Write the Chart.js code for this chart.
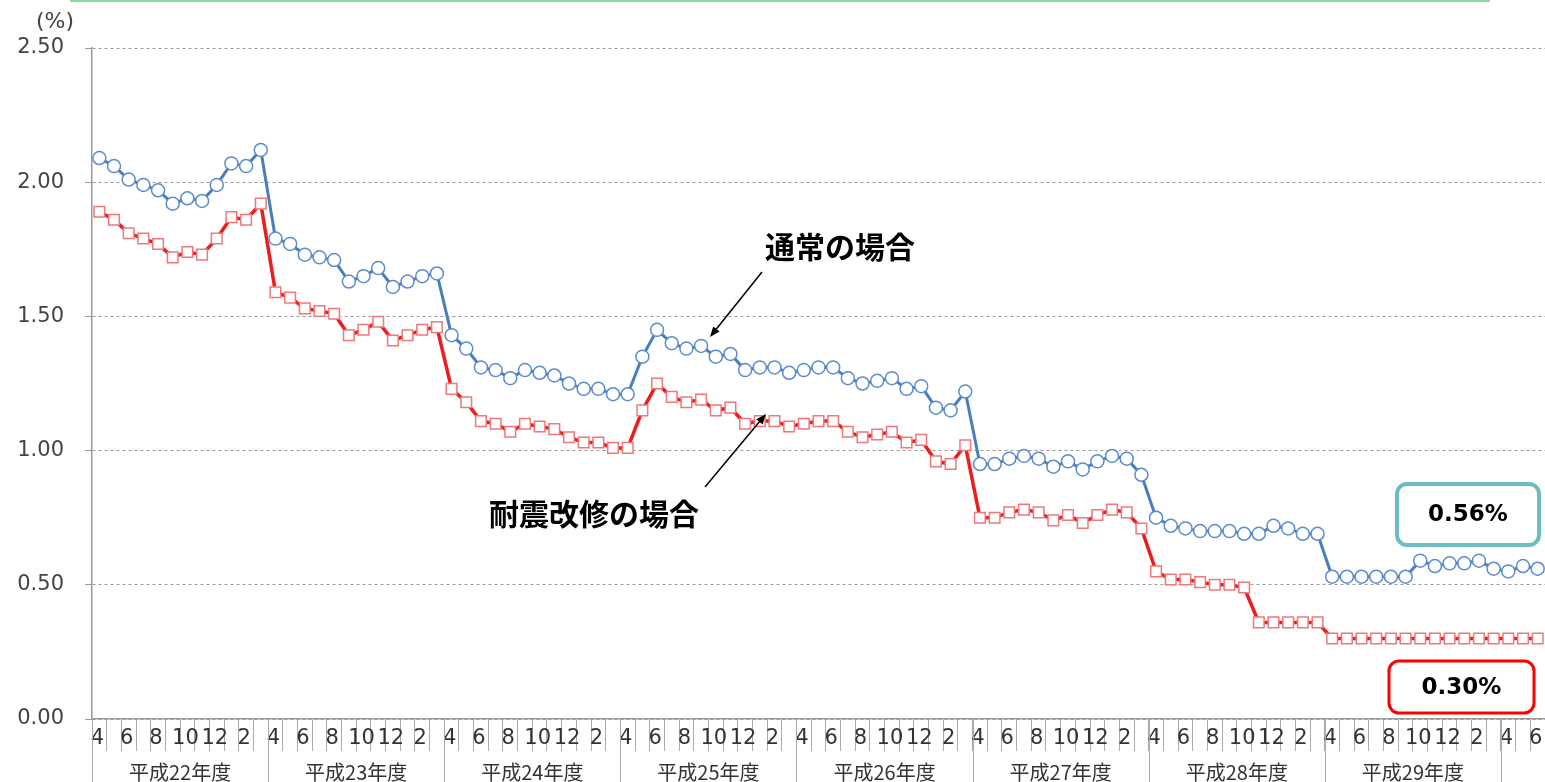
<!DOCTYPE html>
<html lang="ja">
<head>
<meta charset="utf-8">
<title>融資金利の推移</title>
<script src="https://cdn.jsdelivr.net/npm/chart.js@4.4.1/dist/chart.umd.min.js"></script>
<style>
  html, body { margin: 0; padding: 0; background: #fff; overflow: hidden; }
  #wrap { position: relative; width: 1545px; height: 782px; }
  #wrap canvas { display: block; }
</style>
</head>
<body>
<div id="wrap"><canvas id="rates"></canvas></div>
<script>
// 年度（4月始まり）と月
var fiscalYears = ['平成22年度', '平成23年度', '平成24年度', '平成25年度', '平成26年度', '平成27年度', '平成28年度', '平成29年度'];
var fiscalMonths = [4, 5, 6, 7, 8, 9, 10, 11, 12, 1, 2, 3];
var extraMonths = [4, 5, 6];   // 平成30年度 4〜6月

// 金利（%）　1行が1年度分
var normalRates = [
  2.09, 2.06, 2.01, 1.99, 1.97, 1.92, 1.94, 1.93, 1.99, 2.07, 2.06, 2.12,
  1.79, 1.77, 1.73, 1.72, 1.71, 1.63, 1.65, 1.68, 1.61, 1.63, 1.65, 1.66,
  1.43, 1.38, 1.31, 1.30, 1.27, 1.30, 1.29, 1.28, 1.25, 1.23, 1.23, 1.21,
  1.21, 1.35, 1.45, 1.40, 1.38, 1.39, 1.35, 1.36, 1.30, 1.31, 1.31, 1.29,
  1.30, 1.31, 1.31, 1.27, 1.25, 1.26, 1.27, 1.23, 1.24, 1.16, 1.15, 1.22,
  0.95, 0.95, 0.97, 0.98, 0.97, 0.94, 0.96, 0.93, 0.96, 0.98, 0.97, 0.91,
  0.75, 0.72, 0.71, 0.70, 0.70, 0.70, 0.69, 0.69, 0.72, 0.71, 0.69, 0.69,
  0.53, 0.53, 0.53, 0.53, 0.53, 0.53, 0.59, 0.57, 0.58, 0.58, 0.59, 0.56,
  0.55, 0.57, 0.56
];
var seismicRates = [
  1.89, 1.86, 1.81, 1.79, 1.77, 1.72, 1.74, 1.73, 1.79, 1.87, 1.86, 1.92,
  1.59, 1.57, 1.53, 1.52, 1.51, 1.43, 1.45, 1.48, 1.41, 1.43, 1.45, 1.46,
  1.23, 1.18, 1.11, 1.10, 1.07, 1.10, 1.09, 1.08, 1.05, 1.03, 1.03, 1.01,
  1.01, 1.15, 1.25, 1.20, 1.18, 1.19, 1.15, 1.16, 1.10, 1.11, 1.11, 1.09,
  1.10, 1.11, 1.11, 1.07, 1.05, 1.06, 1.07, 1.03, 1.04, 0.96, 0.95, 1.02,
  0.75, 0.75, 0.77, 0.78, 0.77, 0.74, 0.76, 0.73, 0.76, 0.78, 0.77, 0.71,
  0.55, 0.52, 0.52, 0.51, 0.50, 0.50, 0.49, 0.36, 0.36, 0.36, 0.36, 0.36,
  0.30, 0.30, 0.30, 0.30, 0.30, 0.30, 0.30, 0.30, 0.30, 0.30, 0.30, 0.30,
  0.30, 0.30, 0.30
];

var months = [];
fiscalYears.forEach(function () { months = months.concat(fiscalMonths); });
months = months.concat(extraMonths);

var numFont = '"DejaVu Sans", sans-serif';
var jpFont = '"Noto Sans CJK JP", sans-serif';

function arrow(ctx, x1, y1, x2, y2) {
  var a = Math.atan2(y2 - y1, x2 - x1), h = 11;
  ctx.beginPath();
  ctx.moveTo(x1, y1);
  ctx.lineTo(x2 - Math.cos(a) * 6, y2 - Math.sin(a) * 6);
  ctx.stroke();
  ctx.beginPath();
  ctx.moveTo(x2, y2);
  ctx.lineTo(x2 - h * Math.cos(a - 0.38), y2 - h * Math.sin(a - 0.38));
  ctx.lineTo(x2 - h * Math.cos(a + 0.38), y2 - h * Math.sin(a + 0.38));
  ctx.closePath();
  ctx.fill();
}

function valueBox(ctx, x, y, w, h, color, lw, text) {
  ctx.lineWidth = lw;
  ctx.strokeStyle = color;
  ctx.beginPath();
  ctx.roundRect(x, y, w, h, 10);
  ctx.stroke();
  ctx.fillStyle = '#000';
  ctx.font = 'bold 23px ' + numFont;
  ctx.textAlign = 'center';
  ctx.textBaseline = 'middle';
  ctx.fillText(text, x + w / 2, y + h / 2 + 1);
}

// 年度区切り・年度名・注記
var decorations = {
  id: 'decorations',
  afterDraw: function (chart) {
    var ctx = chart.ctx, xs = chart.scales.x, area = chart.chartArea;
    var slot = xs.width / months.length;
    ctx.save();

    ctx.strokeStyle = '#8fdc9c';
    ctx.lineWidth = 2;
    ctx.beginPath(); ctx.moveTo(70, 1); ctx.lineTo(1490, 1); ctx.stroke();

    ctx.strokeStyle = '#aaa';
    ctx.lineWidth = 1;
    for (var i = 0; i < months.length; i++) {
      if (months[i] !== 4) continue;
      var bx = Math.round(xs.getPixelForValue(i) - slot / 2) + 0.5;
      ctx.beginPath(); ctx.moveTo(bx, area.bottom); ctx.lineTo(bx, chart.height); ctx.stroke();
    }

    ctx.fillStyle = '#333';
    ctx.font = '20px ' + jpFont;
    ctx.textAlign = 'center';
    ctx.textBaseline = 'middle';
    fiscalYears.forEach(function (name, k) {
      var a = xs.getPixelForValue(k * 12) - slot / 2;
      var b = xs.getPixelForValue(k * 12 + 11) + slot / 2;
      ctx.fillText(name, (a + b) / 2, 772);
    });

    ctx.font = '22px ' + numFont;
    ctx.fillStyle = '#444';
    ctx.fillText('(%)', 55, 22);

    ctx.fillStyle = '#000';
    ctx.font = 'bold 30px ' + jpFont;
    ctx.fillText('通常の場合', 840, 247);
    ctx.fillText('耐震改修の場合', 594, 514);

    ctx.strokeStyle = '#000';
    ctx.lineWidth = 1.5;
    arrow(ctx, 762, 272, 710, 337);
    arrow(ctx, 705, 487, 766, 414);

    valueBox(ctx, 1397, 484, 142, 61, '#6cbcc4', 4, normalRates[normalRates.length - 1].toFixed(2) + '%');
    valueBox(ctx, 1389, 661, 145, 52, '#ff0000', 3, seismicRates[seismicRates.length - 1].toFixed(2) + '%');
    ctx.restore();
  }
};

new Chart(document.getElementById('rates'), {
  type: 'line',
  data: {
    labels: months.map(String),
    datasets: [{
      label: '通常の場合',
      data: normalRates,
      borderColor: '#4a7dbb',
      borderWidth: 3,
      pointStyle: 'circle',
      pointRadius: 6.5,
      pointBackgroundColor: '#fff',
      pointBorderColor: '#5b8ccc',
      pointBorderWidth: 1.5,
      tension: 0,
      clip: false
    }, {
      label: '耐震改修の場合',
      data: seismicRates,
      borderColor: '#ee1c1c',
      borderWidth: 3.5,
      pointStyle: 'rect',
      pointRadius: 7.5,
      pointBackgroundColor: '#fff',
      pointBorderColor: '#f07878',
      pointBorderWidth: 1.5,
      tension: 0,
      clip: false
    }]
  },
  options: {
    responsive: true,
    maintainAspectRatio: false,
    animation: false,
    layout: { autoPadding: false, padding: { top: 48, right: 0, left: 0, bottom: 0 } },
    plugins: { legend: { display: false }, tooltip: { enabled: false } },
    scales: {
      x: {
        type: 'category',
        offset: true,
        afterFit: function (s) {
          s.height = 63;
          s.paddingLeft = 0;
          s.paddingRight = 0;
        },
        grid: { offset: true, drawOnChartArea: false, drawTicks: true, tickLength: 32, color: '#aaa' },
        border: { color: '#999', width: 1.5 },
        ticks: {
          autoSkip: false,
          maxRotation: 0,
          padding: -25,
          labelOffset: -2,
          color: '#333',
          font: { family: numFont, size: 21 },
          callback: function (v, i) { return i % 2 === 0 ? String(months[i]) : ''; }
        }
      },
      y: {
        min: 0,
        max: 2.5,
        afterFit: function (s) { s.width = 92; },
        grid: { color: '#9a9a9a', tickLength: 7, tickBorderDash: [] },
        border: { color: '#999', width: 1.5, dash: [3, 3] },
        ticks: {
          stepSize: 0.5,
          padding: 21,
          color: '#444',
          font: { family: numFont, size: 21 },
          callback: function (v) { return v.toFixed(2); }
        }
      }
    }
  },
  plugins: [decorations]
});
</script>
</body>
</html>
